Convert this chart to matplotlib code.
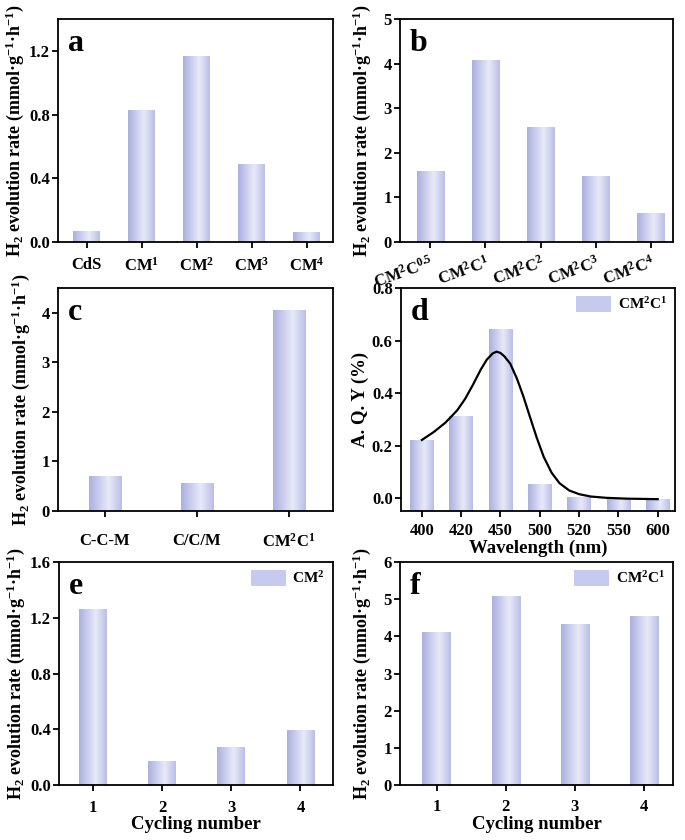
import numpy as np
import matplotlib
matplotlib.use("Agg")
import matplotlib.pyplot as plt
from matplotlib.colors import LinearSegmentedColormap
from matplotlib.patches import Patch
import matplotlib.transforms as mtransforms

plt.rcParams['font.family'] = ['Liberation Serif', 'DejaVu Serif']
plt.rcParams['font.weight'] = 'bold'
plt.rcParams['axes.labelweight'] = 'bold'
plt.rcParams['mathtext.default'] = 'regular'
plt.rcParams['axes.linewidth'] = 1.3

# ---------------- data ----------------
a_labels = ["CdS", "CM$^{1}$", "CM$^{2}$", "CM$^{3}$", "CM$^{4}$"]
a_rates = [0.07, 0.83, 1.17, 0.49, 0.06]

b_labels = ["CM$^{2}$C$^{0.5}$", "CM$^{2}$C$^{1}$", "CM$^{2}$C$^{2}$", "CM$^{2}$C$^{3}$", "CM$^{2}$C$^{4}$"]
b_rates = [1.60, 4.08, 2.57, 1.48, 0.66]

c_labels = ["C-C-M", "C/C/M", "CM$^{2}$C$^{1}$"]
c_rates = [0.71, 0.57, 4.06]

d_wavelengths = ["400", "420", "450", "500", "520", "550", "600"]
d_aqy = [0.223, 0.315, 0.645, 0.054, 0.006, -0.004, -0.002]
# fitted curve (x in category index units)
d_fit_x = [0, 0.3, 0.6, 0.9, 1.1, 1.3, 1.5, 1.65, 1.8, 1.9, 2.0, 2.1, 2.25, 2.42, 2.58,
           2.75, 2.92, 3.1, 3.3, 3.5, 3.75, 4.0, 4.3, 4.7, 5.2, 6.0]
d_fit_y = [0.222, 0.252, 0.288, 0.335, 0.378, 0.432, 0.49, 0.527, 0.551, 0.558, 0.553, 0.54,
           0.512, 0.455, 0.389, 0.31, 0.232, 0.158, 0.098, 0.058, 0.03, 0.016, 0.007, 0.002,
           -0.001, -0.003]

cycles = [1, 2, 3, 4]
e_rates = [1.265, 0.175, 0.273, 0.395]
f_rates = [4.13, 5.08, 4.32, 4.56]

ylab = "H$_2$ evolution rate (mmol·g$^{-1}$·h$^{-1}$)"

# ---------------- style helpers ----------------
bar_cmap = LinearSegmentedColormap.from_list(
    "lav", [(0, "#aab0e0"), (0.6, "#e8eaf8"), (1, "#b9bee7")])
grad = np.linspace(0, 1, 256).reshape(1, -1)
solid = "#c6caee"


def gradient_bars(ax, bars):
    for b in bars:
        x0, y0 = b.get_x(), b.get_y()
        w, h = b.get_width(), b.get_height()
        im = ax.imshow(grad, cmap=bar_cmap, aspect='auto', interpolation='bicubic',
                       extent=(x0, x0 + w, y0, y0 + h), zorder=2)
        im.set_clip_path(b)
        b.set_facecolor('none')
        b.set_edgecolor('none')


def style(ax, letter, xpad, lx, ly, tsize=12):
    ax.tick_params(direction='out', length=4, width=1.3, labelsize=tsize, pad=2)
    ax.tick_params(axis='x', pad=xpad)
    ax.text(0.035, 0.955, letter, transform=ax.transAxes, fontsize=23,
            fontweight='bold', va='top', ha='left')
    ax.yaxis.set_label_coords(lx, 0.5)
    if ly is not None:
        ax.xaxis.set_label_coords(0.5, ly)


def legend(ax, label):
    ax.legend(handles=[Patch(facecolor=solid, edgecolor='none', label=label)],
              loc='upper right', frameon=False, fontsize=11, handlelength=2.3,
              handleheight=1.2, borderaxespad=0.25, borderpad=0.3, handletextpad=0.4)


fig = plt.figure(figsize=(6.85, 8.4), dpi=100)
W, H = 685.0, 840.0


def add_axes(l, r, t, b):
    return fig.add_axes([l / W, 1 - b / H, (r - l) / W, (b - t) / H])


ax_a = add_axes(58, 333, 19, 242)
ax_b = add_axes(400, 673, 19, 242)
ax_c = add_axes(58, 333, 288, 511)
ax_d = add_axes(401, 675, 288, 511)
ax_e = add_axes(59, 333, 562, 785)
ax_f = add_axes(400, 673, 562, 785)

# ---- a ----
xa = np.arange(len(a_labels))
gradient_bars(ax_a, ax_a.bar(xa, a_rates, width=0.49))
ax_a.set_xticks(xa, a_labels, fontsize=11)
ax_a.set_xlim(-0.52, 4.48)
ax_a.set_ylim(0, 1.4)
ax_a.set_yticks([0.0, 0.4, 0.8, 1.2])
ax_a.set_ylabel(ylab, fontsize=13)
style(ax_a, "a", 7, -0.115, None)

# ---- b ----
xb = np.arange(len(b_labels))
gradient_bars(ax_b, ax_b.bar(xb, b_rates, width=0.49))
ax_b.set_xticks(xb, b_labels, fontsize=11, rotation=20, ha='right', rotation_mode='anchor')
off = mtransforms.ScaledTranslation(11 / 100, 0, fig.dpi_scale_trans)
for lbl in ax_b.get_xticklabels():
    lbl.set_transform(lbl.get_transform() + off)
ax_b.set_xlim(-0.55, 4.4)
ax_b.set_ylim(0, 5)
ax_b.set_yticks(range(6))
ax_b.set_ylabel(ylab, fontsize=13)
style(ax_b, "b", 4, -0.10, None)

# ---- c ----
xc = np.arange(len(c_labels))
gradient_bars(ax_c, ax_c.bar(xc, c_rates, width=0.35))
ax_c.set_xticks(xc, c_labels, fontsize=11)
ax_c.set_xlim(-0.51, 2.48)
ax_c.set_ylim(0, 4.5)
ax_c.set_yticks(range(5))
ax_c.set_ylabel(ylab, fontsize=13)
style(ax_c, "c", 12, -0.095, None)

# ---- d ----
xd = np.arange(len(d_wavelengths))
d_bottom = -0.048
gradient_bars(ax_d, ax_d.bar(xd, np.array(d_aqy) - d_bottom, bottom=d_bottom, width=0.6))
ax_d.plot(d_fit_x, d_fit_y, color='black', lw=1.6, zorder=3)
ax_d.set_xticks(xd, d_wavelengths)
ax_d.set_xlim(-0.53, 6.44)
ax_d.set_ylim(d_bottom, 0.8)
ax_d.set_yticks([0.0, 0.2, 0.4, 0.6, 0.8])
ax_d.set_ylabel("A. Q. Y (%)", fontsize=13.5)
ax_d.set_xlabel("Wavelength (nm)", fontsize=13.5, va='top')
legend(ax_d, "CM$^{2}$C$^{1}$")
style(ax_d, "d", 4.5, -0.115, -0.13)

# ---- e ----
gradient_bars(ax_e, ax_e.bar(cycles, e_rates, width=0.4))
ax_e.set_xticks(cycles)
ax_e.set_xlim(0.51, 4.47)
ax_e.set_ylim(0, 1.6)
ax_e.set_yticks([0.0, 0.4, 0.8, 1.2, 1.6])
ax_e.set_ylabel(ylab, fontsize=13)
ax_e.set_xlabel("Cycling number", fontsize=13.5, va='top')
legend(ax_e, "CM$^{2}$")
style(ax_e, "e", 7, -0.118, -0.14)

# ---- f ----
gradient_bars(ax_f, ax_f.bar(cycles, f_rates, width=0.41))
ax_f.set_xticks(cycles)
ax_f.set_xlim(0.47, 4.42)
ax_f.set_ylim(0, 6)
ax_f.set_yticks(range(7))
ax_f.set_ylabel(ylab, fontsize=13)
ax_f.set_xlabel("Cycling number", fontsize=13.5, va='top')
legend(ax_f, "CM$^{2}$C$^{1}$")
style(ax_f, "f", 6, -0.10, -0.14)

fig.savefig("out.png", dpi=100)
